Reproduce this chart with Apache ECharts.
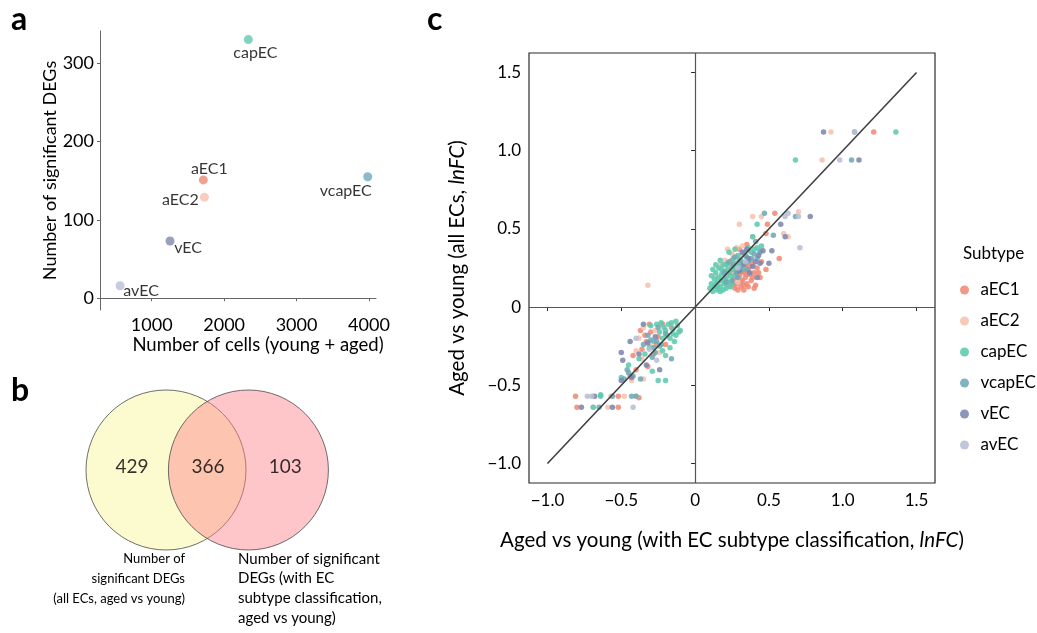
<!DOCTYPE html>
<html>
<head>
<meta charset="utf-8">
<script src="https://cdn.jsdelivr.net/npm/echarts@6/dist/echarts.min.js"></script>
<style>
  html, body { margin: 0; padding: 0; background: #fff; }
  #chart { width: 1037px; height: 633px; }
</style>
</head>
<body>
<div id="chart"></div>
<script>
// ---- data ----
const subtypes = ["aEC1", "aEC2", "capEC", "vcapEC", "vEC", "avEC"];
const subtypeColors = ["#EF8A76", "#F8C1AE", "#5FC9AE", "#6FA9B7", "#7E88AE", "#B7BFD6"];

// panel a: cells vs number of DEGs, one point per subtype
const cellCounts = [1713, 1727, 2334, 3983, 1253, 563];
const degCounts = [151, 129, 330, 155, 73, 16];
const aXTicks = [1000, 2000, 3000, 4000];
const aYTicks = [0, 100, 200, 300];

// panel b: venn counts (only all ECs / shared / only subtype)
const vennCounts = [429, 366, 103];
const vennCircleX = [0, 1.03];

// panel c: lnFC, x = with subtype classification, y = all ECs
const aEC1Points = [
  [1.21, 1.12], [0.54, 0.60], [0.49, 0.53], [0.48, 0.47], [0.57, 0.31], [0.48, 0.24], [0.35, 0.40], [0.30, 0.37],
  [0.26, 0.18], [0.28, 0.15], [0.30, 0.20], [0.31, 0.13], [0.32, 0.17], [0.33, 0.22], [0.34, 0.19], [0.35, 0.15],
  [0.36, 0.24], [0.37, 0.21], [0.38, 0.17], [0.39, 0.27], [0.40, 0.22], [0.41, 0.14], [0.42, 0.25], [0.29, 0.24],
  [0.27, 0.12], [0.33, 0.11], [0.36, 0.13], [0.30, 0.28], [0.24, 0.22], [0.38, 0.30], [0.44, 0.19], [0.45, 0.29],
  [0.22, 0.14], [0.34, 0.27], [0.25, 0.30], [0.40, 0.12], [0.31, 0.16], [0.35, 0.21], [0.28, 0.19], [0.37, 0.26],
  [0.32, 0.23], [0.39, 0.19], [0.26, 0.14], [0.43, 0.22], [0.33, 0.14], [0.29, 0.11],
  [-0.81, -0.57], [-0.80, -0.64], [-0.52, -0.64], [-0.52, -0.57], [-0.38, -0.58], [-0.40, -0.40], [-0.32, -0.38],
  [-0.44, -0.44], [-0.33, -0.22], [-0.30, -0.16], [-0.36, -0.27], [-0.22, -0.11], [-0.25, -0.19], [-0.28, -0.30],
  [-0.37, -0.15], [-0.20, -0.24], [-0.42, -0.31], [-0.16, -0.13], [-0.34, -0.18], [-0.26, -0.24], [-0.31, -0.11]
];
const aEC2Points = [
  [0.92, 1.12], [0.86, 0.94], [0.70, 0.61], [0.39, 0.58], [0.45, 0.58], [0.30, 0.53], [0.39, 0.45], [0.60, 0.47],
  [0.63, 0.45], [-0.32, 0.14],
  [0.17, 0.27], [0.20, 0.30], [0.22, 0.37], [0.25, 0.34], [0.28, 0.38], [0.31, 0.33], [0.19, 0.22], [0.23, 0.26],
  [0.26, 0.21], [0.29, 0.16], [0.14, 0.20], [0.33, 0.25], [0.36, 0.36], [0.18, 0.15], [0.21, 0.18], [0.32, 0.39],
  [0.24, 0.13], [0.27, 0.25],
  [-0.69, -0.57], [-0.69, -0.64], [-0.59, -0.64], [-0.57, -0.57], [-0.48, -0.57], [-0.40, -0.57], [-0.35, -0.46],
  [-0.43, -0.47], [-0.38, -0.20], [-0.35, -0.13], [-0.30, -0.25], [-0.27, -0.15], [-0.40, -0.28], [-0.24, -0.29],
  [-0.36, -0.33]
];
const capECPoints = [
  [1.36, 1.12], [0.68, 0.94], [0.42, 0.53], [0.39, 0.45],
  [0.10, 0.12], [0.11, 0.15], [0.12, 0.10], [0.13, 0.18], [0.13, 0.13], [0.14, 0.22], [0.15, 0.16], [0.15, 0.11],
  [0.16, 0.19], [0.16, 0.25], [0.17, 0.13], [0.18, 0.21], [0.18, 0.17], [0.19, 0.11], [0.19, 0.27], [0.20, 0.15],
  [0.20, 0.23], [0.21, 0.19], [0.21, 0.12], [0.22, 0.28], [0.22, 0.24], [0.23, 0.16], [0.24, 0.20], [0.24, 0.13],
  [0.25, 0.26], [0.26, 0.31], [0.26, 0.24], [0.27, 0.20], [0.28, 0.28], [0.29, 0.33], [0.30, 0.26], [0.31, 0.30],
  [0.33, 0.35], [0.35, 0.32], [0.36, 0.38], [0.38, 0.35], [0.40, 0.37], [0.42, 0.38], [0.44, 0.36], [0.45, 0.39],
  [0.12, 0.24], [0.17, 0.30], [0.23, 0.35], [0.27, 0.37], [0.14, 0.27], [0.32, 0.24], [0.11, 0.20], [0.14, 0.15],
  [0.17, 0.10], [0.20, 0.18], [0.23, 0.22], [0.25, 0.15], [0.18, 0.24], [0.21, 0.27], [0.15, 0.13], [0.28, 0.23],
  [-0.69, -0.64], [-0.64, -0.57], [-0.64, -0.56], [-0.50, -0.45], [-0.29, -0.41], [-0.25, -0.47], [-0.20, -0.47],
  [-0.20, -0.31], [-0.24, -0.25], [-0.22, -0.20], [-0.20, -0.15], [-0.18, -0.11], [-0.15, -0.14], [-0.13, -0.18],
  [-0.12, -0.12], [-0.10, -0.15], [-0.14, -0.22], [-0.17, -0.26], [-0.19, -0.18], [-0.16, -0.10], [-0.11, -0.16],
  [-0.21, -0.13], [-0.26, -0.11], [-0.24, -0.16], [-0.28, -0.22], [-0.31, -0.26], [-0.34, -0.30], [-0.45, -0.37],
  [-0.38, -0.33], [-0.22, -0.28], [-0.30, -0.12], [-0.13, -0.09], [-0.17, -0.20], [-0.23, -0.10], [-0.15, -0.17]
];
const vcapECPoints = [
  [1.08, 1.12], [1.06, 0.94], [0.47, 0.60], [0.68, 0.58], [0.53, 0.46], [0.41, 0.42],
  [0.20, 0.22], [0.23, 0.29], [0.26, 0.27], [0.28, 0.22], [0.30, 0.30], [0.31, 0.24], [0.33, 0.28], [0.34, 0.33],
  [0.36, 0.29], [0.38, 0.31], [0.40, 0.34], [0.42, 0.31], [0.44, 0.35], [0.25, 0.17], [0.29, 0.19], [0.35, 0.24],
  [0.21, 0.16], [0.27, 0.32],
  [-0.65, -0.64], [-0.56, -0.57], [-0.43, -0.57], [-0.40, -0.57], [-0.46, -0.40], [-0.45, -0.42], [-0.42, -0.44],
  [-0.48, -0.46], [-0.37, -0.46], [-0.26, -0.22], [-0.28, -0.26], [-0.30, -0.21], [-0.27, -0.29], [-0.23, -0.24],
  [-0.32, -0.18], [-0.25, -0.13], [-0.16, -0.33], [-0.20, -0.17], [-0.35, -0.24], [-0.29, -0.32]
];
const vECPoints = [
  [0.87, 1.12], [1.11, 0.94], [0.78, 0.58], [0.58, 0.53], [0.61, 0.45], [0.52, 0.36], [0.50, 0.28], [0.42, 0.19],
  [0.46, 0.36],
  [0.33, 0.27], [0.36, 0.31], [0.39, 0.26], [0.41, 0.29], [0.43, 0.33], [0.37, 0.22], [0.32, 0.35], [0.30, 0.23],
  [0.44, 0.28], [0.35, 0.37],
  [-0.77, -0.64], [-0.68, -0.57], [-0.56, -0.64], [-0.50, -0.47], [-0.44, -0.22], [-0.50, -0.29], [-0.49, -0.34],
  [-0.24, -0.40], [-0.35, -0.11], [-0.32, -0.23], [-0.27, -0.19], [-0.38, -0.30], [-0.43, -0.45], [-0.33, -0.37]
];
const avECPoints = [
  [1.08, 1.12], [0.98, 0.94], [0.63, 0.60], [0.61, 0.58], [0.70, 0.58], [0.71, 0.38], [0.34, 0.29], [0.29, 0.25],
  [-0.70, -0.57], [-0.42, -0.64], [-0.73, -0.57], [-0.31, -0.27], [-0.40, -0.20], [-0.26, -0.34]
];
const subtypePoints = [aEC1Points, aEC2Points, capECPoints, vcapECPoints, vECPoints, avECPoints];
const diagonal = [[-1, -1], [1.5, 1.5]];
const cTicks = [-1, -0.5, 0, 0.5, 1, 1.5];

// ---- styles ----
const FONT = "Lato, 'Open Sans', sans-serif";
const TXT = "#000";
// label offsets (px) for panel a, relative to each point
const aLabelOffsets = [[6, -11], [-24, 3], [7, 13], [-22, 14], [18, 7], [21, 5]];
const vennTextX = [-0.425, 0.525, 1.49];

function fmtLn(v) {
  if (v === 0) return "0";
  return (v < 0 ? "\u2212" : "") + Math.abs(v).toFixed(1);
}

const chart = echarts.init(document.getElementById("chart"));

const tickLabel = { fontFamily: FONT, color: TXT };

const option = {
  animation: false,
  textStyle: { fontFamily: FONT },
  grid: [
    { left: 100, top: 31, width: 276, height: 279 },
    { left: 42, top: 380, width: 332, height: 180 },
    { left: 529, top: 53, width: 406, height: 430, show: true, borderColor: "#2a2a2a", borderWidth: 1.2 },
  ],
  xAxis: [
    {
      gridIndex: 0, type: "value", min: 286, max: 4097,
      axisLine: { lineStyle: { color: "#666", width: 1 } },
      axisTick: { length: 3, lineStyle: { color: "#666" }, customValues: aXTicks },
      axisLabel: { ...tickLabel, fontSize: 18, margin: 6, customValues: aXTicks, formatter: (v) => String(v) },
      splitLine: { show: false },
    },
    { gridIndex: 1, type: "value", min: -1.55, max: 2.6, show: false },
    {
      gridIndex: 2, type: "value", min: -1.125, max: 1.625,
      axisLine: { show: false },
      axisTick: { length: 4, lineStyle: { color: "#2a2a2a" }, customValues: cTicks },
      axisLabel: { ...tickLabel, fontSize: 17, margin: 9, customValues: cTicks, formatter: fmtLn },
      splitLine: { show: false },
      name: "Aged vs young (with EC subtype classification, {i|lnFC})",
      nameLocation: "middle", nameGap: 47,
      nameTextStyle: {
        fontFamily: FONT, fontSize: 20.5, color: TXT,
        rich: { i: { fontFamily: FONT, fontSize: 20.5, fontStyle: "italic", color: TXT } },
      },
    },
  ],
  yAxis: [
    {
      gridIndex: 0, type: "value", min: -15, max: 341,
      axisLine: { show: true, lineStyle: { color: "#666", width: 1 } },
      axisTick: { show: true, length: 3, lineStyle: { color: "#666" }, customValues: aYTicks },
      axisLabel: { ...tickLabel, fontSize: 18, margin: 6, customValues: aYTicks },
      splitLine: { show: false },
      name: "Number of significant DEGs",
      nameLocation: "middle", nameGap: 39,
      nameTextStyle: { fontFamily: FONT, fontSize: 18, color: TXT },
    },
    { gridIndex: 1, type: "value", min: -1.125, max: 1.125, show: false },
    {
      gridIndex: 2, type: "value", min: -1.125, max: 1.625,
      axisLine: { show: false },
      axisTick: { show: true, length: 4, lineStyle: { color: "#2a2a2a" }, customValues: cTicks },
      axisLabel: { ...tickLabel, fontSize: 17, margin: 8, customValues: cTicks, formatter: fmtLn },
      splitLine: { show: false },
      name: "Aged vs young (all ECs, {i|lnFC})",
      nameLocation: "middle", nameGap: 61,
      nameTextStyle: {
        fontFamily: FONT, fontSize: 20.5, color: TXT,
        rich: { i: { fontFamily: FONT, fontSize: 20.5, fontStyle: "italic", color: TXT } },
      },
    },
  ],
  legend: {
    data: subtypes,
    orient: "vertical",
    left: 955, top: 276,
    icon: "circle",
    itemWidth: 22, itemHeight: 9, itemGap: 13,
    textStyle: { fontFamily: FONT, fontSize: 17, color: TXT, lineHeight: 18 },
  },
  graphic: [
    { type: "text", left: 11, top: 4, style: { text: "a", font: "bold 32px " + FONT, fill: "#000" } },
    { type: "text", left: 11, top: 375, style: { text: "b", font: "bold 32px " + FONT, fill: "#000" } },
    { type: "text", left: 427, top: 4, style: { text: "c", font: "bold 32px " + FONT, fill: "#000" } },
    {
      type: "text", x: 258, y: 345,
      style: { text: "Number of cells (young + aged)", font: "18.5px " + FONT, fill: TXT, align: "center", verticalAlign: "middle" },
    },
    {
      type: "text", x: 185, y: 579,
      style: {
        text: "Number of\nsignificant DEGs\n(all ECs, aged vs young)",
        font: "13px " + FONT, fill: TXT, align: "right", verticalAlign: "middle", lineHeight: 20,
      },
    },
    {
      type: "text", x: 238, y: 588.5,
      style: {
        text: "Number of significant\nDEGs (with EC\nsubtype classification,\naged vs young)",
        font: "15px " + FONT, fill: TXT, align: "left", verticalAlign: "middle", lineHeight: 19.7,
      },
    },
    {
      type: "text", x: 963, y: 254,
      style: { text: "Subtype", font: "17px " + FONT, fill: TXT, align: "left", verticalAlign: "middle" },
    },
  ],
  series: [
    {
      type: "scatter", name: "cells", xAxisIndex: 0, yAxisIndex: 0,
      symbolSize: 9,
      data: cellCounts.map((c, i) => ({
        value: [c, degCounts[i]],
        itemStyle: { color: subtypeColors[i] },
        label: {
          show: true, position: "inside", offset: aLabelOffsets[i],
          formatter: subtypes[i], fontFamily: FONT, fontSize: 16, color: TXT,
        },
      })),
    },
    {
      type: "custom", name: "venn", xAxisIndex: 1, yAxisIndex: 1,
      data: vennCircleX.map((x) => [x, 0, 1]),
      renderItem: (params, api) => {
        const c = api.coord([api.value(0), api.value(1)]);
        const r = api.size([api.value(2), 0])[0];
        const first = params.dataIndex === 0;
        return {
          type: "circle",
          shape: { cx: c[0], cy: c[1], r: r },
          style: {
            fill: first ? "#FCFBD0" : "rgba(255,128,138,0.45)",
            stroke: "#4a4a4a", lineWidth: 0.8,
          },
        };
      },
    },
    {
      type: "scatter", name: "vennCounts", xAxisIndex: 1, yAxisIndex: 1,
      symbolSize: 0,
      data: vennCounts.map((v, i) => [vennTextX[i], 0.04, v]),
      label: {
        show: true, position: "inside", formatter: (p) => String(p.value[2]),
        fontFamily: FONT, fontSize: 19, color: TXT,
      },
    },
    ...subtypes.map((s, i) => ({
      type: "scatter", name: s, xAxisIndex: 2, yAxisIndex: 2,
      symbolSize: 5.5,
      itemStyle: { color: subtypeColors[i], opacity: 0.88 },
      data: subtypePoints[i],
      z: 3,
    })),
    {
      type: "line", name: "diag", xAxisIndex: 2, yAxisIndex: 2,
      data: diagonal, symbol: "none",
      lineStyle: { color: "#404040", width: 1.6 },
      z: 5,
      markLine: {
        silent: true, symbol: "none", label: { show: false },
        lineStyle: { color: "#555", width: 1.2, type: "solid" },
        data: [{ xAxis: 0 }, { yAxis: 0 }],
        z: 1,
      },
    },
  ],
};

chart.setOption(option);
</script>
</body>
</html>
